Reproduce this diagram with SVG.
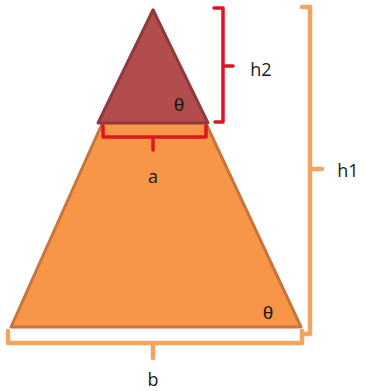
<svg xmlns="http://www.w3.org/2000/svg" width="366" height="391" viewBox="0 0 366 391">
<style>
.lbl{font-family:"Open Sans","Liberation Sans",sans-serif;font-size:18px;fill:#1a1a1a;text-anchor:middle}
.th{font-family:"Liberation Sans",sans-serif;font-size:19px;fill:#1a1a1a;text-anchor:middle}
.br{fill:none;stroke-linecap:round;stroke-linejoin:round}
.red{stroke:#E0141E;stroke-width:3.5}
.org{stroke:#F2A461;stroke-width:4.5}
</style>
<rect width="366" height="391" fill="#ffffff"/>
<g id="big-triangle">
<polygon points="153,10 301,327 11,327" fill="#F79646" stroke="#C8743A" stroke-width="3" stroke-linejoin="round"/>
<text class="th" x="268" y="319">θ</text>
</g>
<g id="small-triangle">
<polygon points="153,10 208,123 98,123" fill="#B34D4D" stroke="#8F3B3B" stroke-width="3" stroke-linejoin="round"/>
<text class="th" x="179" y="111">θ</text>
</g>
<g id="connectors">
<path class="br red" d="M103,126 V137 H206 V126 M153,137 V150"/>
<path class="br red" d="M214,8 H223 V122 H215 M223,66 H233"/>
<path class="br org" d="M302,7 H310 V334 H302 M310,169 H322"/>
<path class="br org" d="M8,331 V343 H302 V331 M153,343 V358"/>
</g>
<g id="labels">
<text class="lbl" x="153" y="183">a</text>
<text class="lbl" x="261" y="76">h2</text>
<text class="lbl" x="348" y="177">h1</text>
<text class="lbl" x="153" y="386">b</text>
</g>
</svg>
